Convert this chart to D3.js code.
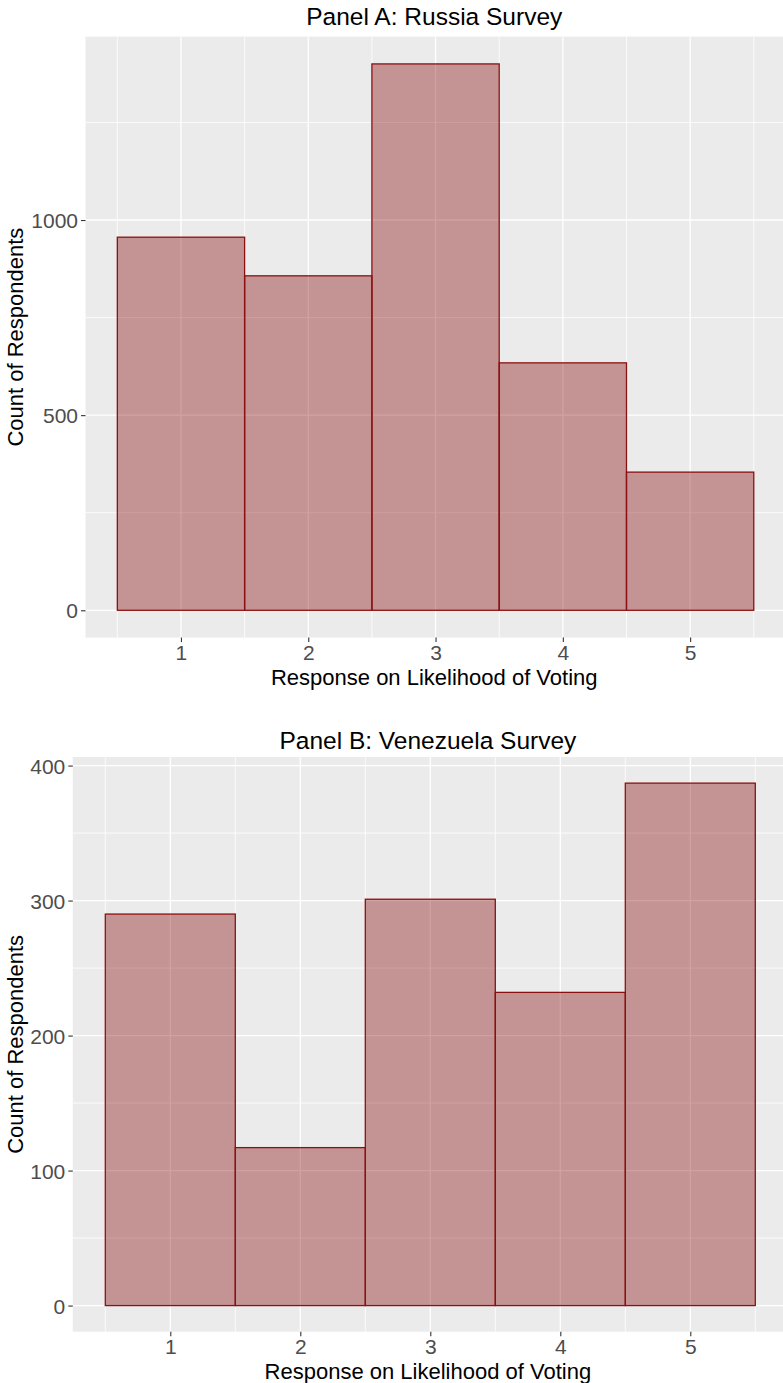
<!DOCTYPE html>
<html>
<head>
<meta charset="utf-8">
<script src="https://cdn.jsdelivr.net/npm/d3@7"></script>
<style>
  html, body { margin: 0; padding: 0; background: #fff; }
  svg { display: block; }
  text { font-family: "Liberation Sans", Arial, sans-serif; }
</style>
</head>
<body>
<svg id="chart" width="783" height="1383"></svg>
<script>
// Data
const categories = [1, 2, 3, 4, 5];
const russiaCounts = [956, 857, 1400, 634, 354];
const venezuelaCounts = [290, 117, 301, 232, 387];
const russiaYTicks = [0, 500, 1000];
const venezuelaYTicks = [0, 100, 200, 300, 400];
const russiaYMinor = [250, 750, 1250];
const venezuelaYMinor = [50, 150, 250, 350];
const xMinor = [0.5, 1.5, 2.5, 3.5, 4.5, 5.5];
const titles = ["Panel A: Russia Survey", "Panel B: Venezuela Survey"];
const xTitle = "Response on Likelihood of Voting";
const yTitle = "Count of Respondents";

const svg = d3.select("#chart");

const panels = [
  { title: titles[0], values: russiaCounts, ticks: russiaYTicks, minor: russiaYMinor,
    left: 85.5, right: 785.6, top: 36.6, bottom: 637.6, titleY: 25, ymax: 1400 },
  { title: titles[1], values: venezuelaCounts, ticks: venezuelaYTicks, minor: venezuelaYMinor,
    left: 72.8, right: 787.8, top: 757, bottom: 1331.7, titleY: 749, ymax: 387 }
];

panels.forEach(p => {
  const g = svg.append("g");
  const x = d3.scaleLinear().domain([0.25, 5.75]).range([p.left, p.right]);
  const y = d3.scaleLinear().domain([-0.05 * p.ymax, 1.05 * p.ymax]).range([p.bottom, p.top]);

  g.append("rect").attr("x", p.left).attr("y", p.top)
    .attr("width", p.right - p.left).attr("height", p.bottom - p.top)
    .attr("fill", "#EBEBEB");

  g.selectAll(".ymin").data(p.minor).enter().append("line")
    .attr("x1", p.left).attr("x2", p.right)
    .attr("y1", d => y(d)).attr("y2", d => y(d))
    .attr("stroke", "#fff").attr("stroke-width", 0.8);
  g.selectAll(".xmin").data(xMinor).enter().append("line")
    .attr("y1", p.top).attr("y2", p.bottom)
    .attr("x1", d => x(d)).attr("x2", d => x(d))
    .attr("stroke", "#fff").attr("stroke-width", 0.8);
  g.selectAll(".ymaj").data(p.ticks).enter().append("line")
    .attr("x1", p.left).attr("x2", p.right)
    .attr("y1", d => y(d)).attr("y2", d => y(d))
    .attr("stroke", "#fff").attr("stroke-width", 1.3);
  g.selectAll(".xmaj").data(categories).enter().append("line")
    .attr("y1", p.top).attr("y2", p.bottom)
    .attr("x1", d => x(d)).attr("x2", d => x(d))
    .attr("stroke", "#fff").attr("stroke-width", 1.3);

  g.selectAll(".bar").data(categories).enter().append("rect")
    .attr("x", d => x(d - 0.5))
    .attr("width", d => x(d + 0.5) - x(d - 0.5))
    .attr("y", (d, i) => y(p.values[i]))
    .attr("height", (d, i) => y(0) - y(p.values[i]))
    .attr("fill", "rgba(130,0,0,0.37)")
    .attr("stroke", "#8B1010").attr("stroke-width", 1.3);

  const ya = g.append("g").attr("transform", `translate(${p.left},0)`)
    .call(d3.axisLeft(y).tickValues(p.ticks).tickFormat(d3.format("d")).tickSize(4.5).tickPadding(3));
  ya.select(".domain").remove();
  ya.selectAll(".tick line").attr("stroke", "#333").attr("stroke-width", 1.1);
  ya.selectAll(".tick text").attr("fill", "#4D4D4D").style("font-size", "21px")
    .attr("dy", "0.36em");

  const xa = g.append("g").attr("transform", `translate(0,${p.bottom})`)
    .call(d3.axisBottom(x).tickValues(categories).tickFormat(d3.format("d")).tickSize(4.5).tickPadding(3));
  xa.select(".domain").remove();
  xa.selectAll(".tick line").attr("stroke", "#333").attr("stroke-width", 1.1);
  xa.selectAll(".tick text").attr("fill", "#4D4D4D").style("font-size", "21px");

  const cx = (p.left + Math.min(p.right, 783)) / 2;
  g.append("text").attr("x", cx).attr("y", p.titleY)
    .attr("text-anchor", "middle").style("font-size", "24.5px").attr("fill", "#000")
    .text(p.title);
  g.append("text").attr("x", cx).attr("y", p.bottom + 47)
    .attr("text-anchor", "middle").style("font-size", "22px").attr("fill", "#000")
    .text(xTitle);
  g.append("text")
    .attr("transform", `translate(23,${(p.top + p.bottom) / 2}) rotate(-90)`)
    .attr("text-anchor", "middle").style("font-size", "22px").attr("fill", "#000")
    .text(yTitle);
});
</script>
</body>
</html>
